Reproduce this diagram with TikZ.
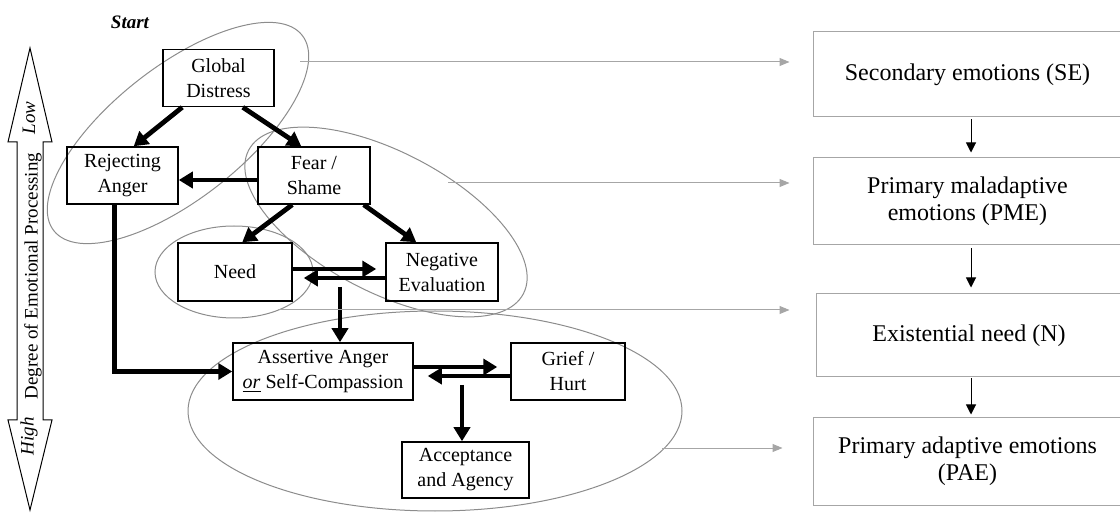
\documentclass[tikz,border=0pt]{standalone}
\usepackage{fontspec}
\setmainfont{Liberation Serif}
\usetikzlibrary{positioning}
\usetikzlibrary{shapes,arrows}
\usetikzlibrary{arrows.meta,calc}

\begin{document}
\begin{tikzpicture}[x=0.5pt, y=-0.5pt, >={Triangle[length=7pt,width=8pt]}]
\tikzstyle{box}=[draw=black, line width=0.75pt, align=center, inner sep=0pt, font=\fontsize{10}{12.5}\selectfont]
\tikzstyle{stage}=[draw=black!35, line width=0.5pt, align=center, inner sep=0pt, font=\fontsize{12}{13.5}\selectfont]
\tikzstyle{ring}=[draw=black!45, line width=0.5pt]
\tikzstyle{flow}=[->, draw=black, line width=2.4pt]
\tikzstyle{link}=[-{Triangle[length=5pt,width=4pt]}, draw=black!35, line width=0.5pt]
\tikzstyle{thinflow}=[-{Triangle[length=5pt,width=5pt]}, draw=black, line width=0.5pt]
\useasboundingbox (0,0) rectangle (1120,513);

% processing axis
\draw[line width=0.5pt] (30,48) -- (52,142) -- (43,142) -- (43,420) -- (52,420) -- (30,510)
  -- (8,420) -- (17,420) -- (17,142) -- (8,142) -- cycle;
\node[rotate=90, font=\fontsize{9.5}{11}\selectfont] (low) at (29,118) {\textit{Low}};
\node[rotate=90, font=\fontsize{9.5}{12}\selectfont] (deg) at (33,276) {Degree of Emotional Processing};
\node[rotate=90, font=\fontsize{9.5}{11}\selectfont] (high) at (29,436) {\textit{High}};

\node[font=\fontsize{9.5}{11}\selectfont\bfseries\itshape] (start) at (130,22) {Start};

% groups
\draw[ring, rotate around={38.2:(178,133)}] (178,133) ellipse (158 and 66);
\draw[ring, rotate around={-27.6:(386,222)}] (386,222) ellipse (155 and 70);
\draw[ring] (234,272) ellipse (79 and 46);
\draw[ring] (435,411) ellipse (247 and 100);

\node[box, minimum width=55.5pt, minimum height=28.5pt] (1) at (218.5,78)  {Global\\Distress};
\node[box, minimum width=55.5pt, minimum height=28.5pt] (2) at (122.5,175.5) {Rejecting\\Anger};
\node[box, minimum width=56pt,   minimum height=28.5pt] (3) at (314,175.5) {Fear /\\Shame};
\node[box, minimum width=57pt,   minimum height=29pt]   (4) at (235,272)   {Need};
\node[box, minimum width=56pt,   minimum height=29pt]   (5) at (442,272)   {Negative\\Evaluation};
\node[box, minimum width=90pt,   minimum height=28.5pt] (6) at (323,371.5) {Assertive Anger\\\underline{\textit{or}} Self-Compassion};
\node[box, minimum width=57pt,   minimum height=28.5pt] (7) at (568,371.5) {Grief /\\Hurt};
\node[box, minimum width=63.5pt, minimum height=28pt]   (8) at (465.5,470) {Acceptance\\and Agency};

\node[stage, minimum width=154.5pt, minimum height=42.5pt] (9)  at (967.5,74.5)  {\raisebox{-4pt}{Secondary emotions (SE)}};
\node[stage, minimum width=154.5pt, minimum height=43.5pt] (10) at (967.5,201.5) {Primary maladaptive\\emotions (PME)};
\node[stage, minimum width=153pt,   minimum height=41.5pt] (11) at (969,335.5)   {Existential need (N)};
\node[stage, minimum width=154.5pt, minimum height=43.5pt] (12) at (967.5,461.5) {Primary adaptive emotions\\(PAE)};

\coordinate (c1) at (340,287);
\coordinate (c2) at (462,385);
\path[every edge/.append style={flow}]
($(1.south west)+(20,0)$) edge ($(2.north east)+(-45,0)$)
($(1.south east)+(-32,0)$) edge ($(3.north west)+(44,0)$)
($(3.west)+(0,4.5)$) edge ($(2.east)+(0,4.5)$)
($(3.south west)+(35,0)$) edge ($(4.north west)+(65,0)$)
($(3.south east)+(-7,0)$) edge ($(5.north west)+(31,0)$)
($(4.east)+(0,-3)$) edge[shorten >=4.5pt] ($(5.west)+(0,-3)$)
($(5.west)+(0,6)$) edge[shorten >=5.5pt] ($(4.east)+(0,6)$)
(c1) edge (6.north -| c1)
($(6.east)+(0,-4.5)$) edge[shorten >=6.5pt] ($(7.west)+(0,-4.5)$)
($(7.west)+(0,4.5)$) edge[shorten >=7pt] ($(6.east)+(0,4.5)$)
(c2) edge (8.north -| c2);
\draw[flow] ($(2.south west)+(48,0)$) |- (6.west);

% to the stages
\coordinate (s1) at (300,62);
\coordinate (s2) at (448,183);
\coordinate (s3) at (278,310);
\coordinate (s4) at (662,448);
\path[every edge/.append style={link}]
(s1) edge[shorten >=11.5pt] (s1 -| 9.west)
(s2) edge[shorten >=11.5pt] (s2 -| 10.west)
(s3) edge[shorten >=13pt] (s3 -| 11.west)
(s4) edge[shorten >=15pt] (s4 -| 12.west);

\coordinate (ax) at (971,0);
\path[every edge/.append style={thinflow}]
(9.south -| ax) edge[shorten <=1pt, shorten >=2.5pt] (10.north -| ax)
(10.south -| ax) edge[shorten <=1.5pt, shorten >=3pt] (11.north -| ax)
(11.south -| ax) edge[shorten <=0.5pt, shorten >=1.5pt] (12.north -| ax);
\end{tikzpicture}
\end{document}
